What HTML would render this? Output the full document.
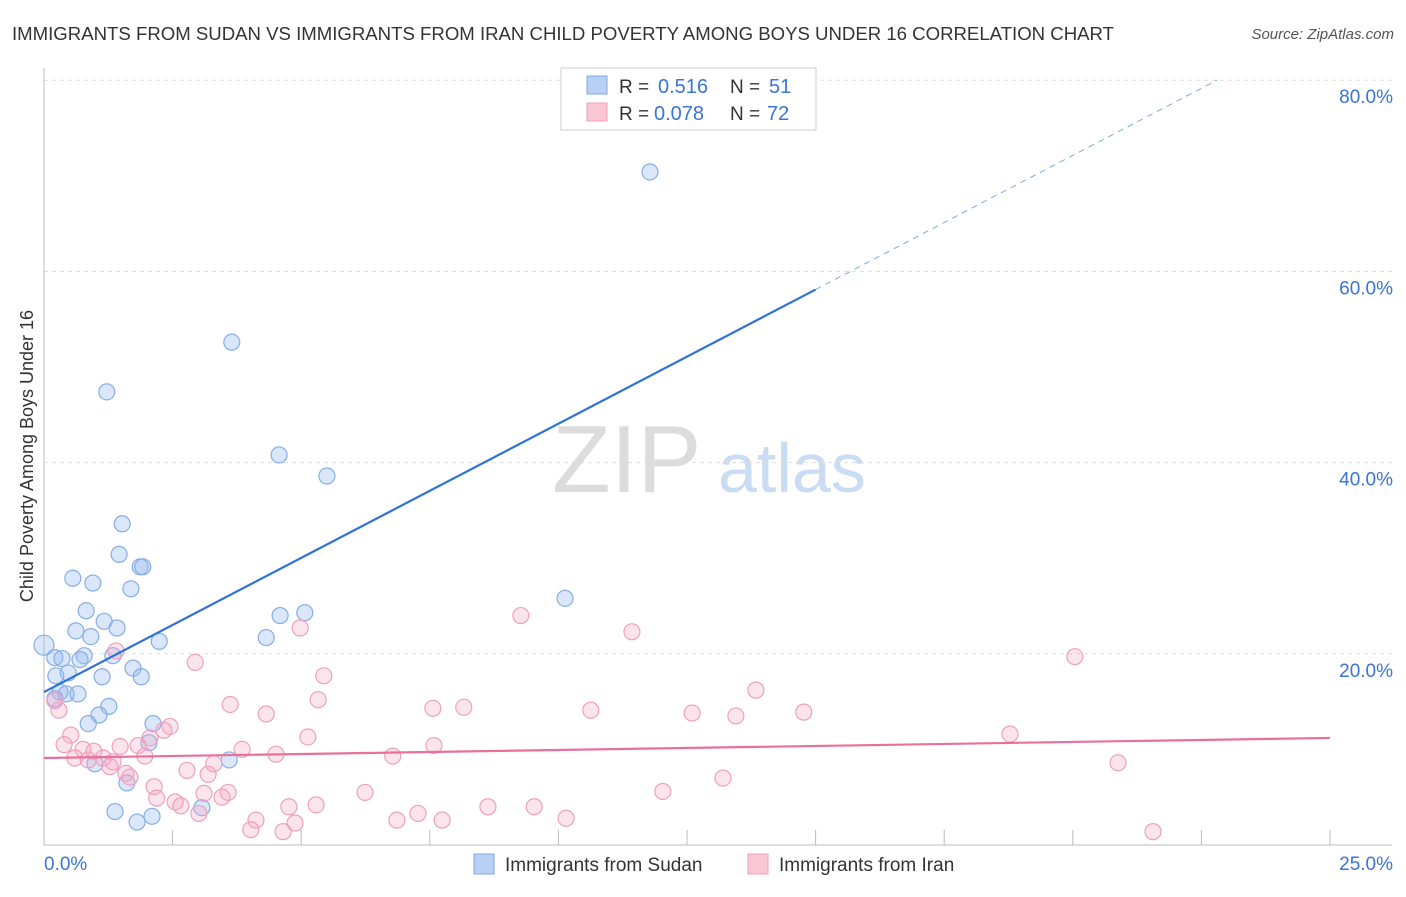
<!DOCTYPE html>
<html><head><meta charset="utf-8"><style>
body{margin:0;background:#fff;font-family:"Liberation Sans",sans-serif;}
svg text{font-family:"Liberation Sans",sans-serif;}
</style></head><body>
<svg id="chart" width="1406" height="892" xmlns="http://www.w3.org/2000/svg">
<text x="12" y="40" font-size="18.6" fill="#333">IMMIGRANTS FROM SUDAN VS IMMIGRANTS FROM IRAN CHILD POVERTY AMONG BOYS UNDER 16 CORRELATION CHART</text>
<text x="1394" y="39" font-size="15" fill="#555" font-style="italic" text-anchor="end">Source: ZipAtlas.com</text>
<text x="33" y="456" font-size="18" fill="#333" text-anchor="middle" transform="rotate(-90 33 456)">Child Poverty Among Boys Under 16</text>
<text x="552" y="492" font-size="96" fill="#dcdcdc" font-family="Liberation Serif">ZIP</text>
<text x="718" y="492" font-size="70" fill="#c9dcf3">atlas</text>
<g id="grid"></g><g id="marks"></g>
<g>
<rect x="561" y="68" width="255" height="62" fill="#fff" stroke="#ccc"/>
<rect x="587" y="76" width="20" height="18" fill="#b8d0f4" stroke="#7fa8e0"/>
<rect x="587" y="103" width="20" height="18" fill="#f9c6d6" stroke="#eea0bb"/>
<text x="619" y="93" font-size="19" fill="#333">R =</text>
<text x="658" y="93" font-size="20" fill="#3a74d4">0.516</text>
<text x="730" y="93" font-size="19" fill="#333">N =</text>
<text x="769" y="93" font-size="20" fill="#3a74d4">51</text>
<text x="619" y="120" font-size="19" fill="#333">R =</text>
<text x="654" y="120" font-size="20" fill="#3a74d4">0.078</text>
<text x="730" y="120" font-size="19" fill="#333">N =</text>
<text x="767" y="120" font-size="20" fill="#3a74d4">72</text>
</g>
<g>
<rect x="474" y="854" width="20" height="20" fill="#b8d0f4" stroke="#7fa8e0"/>
<text x="505" y="871" font-size="19" fill="#333">Immigrants from Sudan</text>
<rect x="748" y="854" width="20" height="20" fill="#f9c6d6" stroke="#eea0bb"/>
<text x="779" y="871" font-size="19" fill="#333">Immigrants from Iran</text>
</g>
</svg>
<script>
const yTicks=[20,40,60,80];
const yTickLabels=["20.0%","40.0%","60.0%","80.0%"];
const xTicks=[0,2.5,5,7.5,10,12.5,15,17.5,20,22.5,25];
const sudanX=[11.78,3.65,1.22,4.57,5.5,1.52,1.46,0.56,0.95,1.87,1.92,1.69,10.13,0.82,4.59,5.07,1.17,1.42,0.62,0.91,4.32,2.24,0,0.21,0.78,0.7,0.35,1.34,1.73,0.47,0.23,1.13,1.89,0.31,0.43,0.66,0.21,1.26,1.07,0.86,2.12,2.04,3.6,0.99,1.61,1.38,3.07,2.1,1.81];
const sudanY=[70.4,52.6,47.4,40.8,38.6,33.6,30.4,27.9,27.4,29.1,29.1,26.8,25.8,24.5,24,24.3,23.4,22.7,22.4,21.8,21.7,21.3,20.9,19.6,19.8,19.4,19.5,19.8,18.5,18,17.7,17.6,17.6,16,15.8,15.8,15.3,14.5,13.6,12.7,12.7,10.7,8.9,8.5,6.5,3.5,3.9,3,2.4];
const iranX=[9.27,11.43,4.98,20.04,2.94,1.4,5.44,13.84,5.33,3.62,4.32,7.56,8.16,10.63,12.6,13.45,14.77,0.29,0.21,2.45,2.33,0.52,18.78,5.13,2.06,0.39,0.76,0.97,1.48,1.83,3.85,7.58,4.51,1.96,6.78,0.6,1.15,0.86,1.34,1.28,3.3,2.78,3.19,1.59,1.67,13.2,20.88,2.14,2.19,2.55,2.66,3.58,3.11,3.46,6.24,12.03,5.29,4.76,8.63,9.53,7.27,3.01,4.12,6.86,7.74,10.15,4.88,4.02,4.65,21.56];
const iranY=[24,22.3,22.7,19.7,19.1,20.3,17.7,16.2,15.2,14.7,13.7,14.3,14.4,14.1,13.8,13.5,13.9,14.1,15.1,12.4,12,11.5,11.6,11.3,11.2,10.5,10,9.8,10.3,10.4,10,10.4,9.5,9.3,9.3,9.1,9.1,8.9,8.7,8.2,8.5,7.8,7.4,7.5,7.1,7,8.6,6.1,4.9,4.5,4.1,5.5,5.4,5,5.5,5.6,4.2,4,4,4,3.3,3.3,2.6,2.6,2.6,2.8,2.3,1.6,1.4,1.4];
const sudanTrend=[16,58.1];const sudanTrendX=[0,15];
const iranTrend=[9.1,11.2];const iranTrendX=[0,25];
const X=p=>44+p*51.44, Y=v=>845-v*9.56;
const NS="http://www.w3.org/2000/svg";
function mk(t,a,parent){const e=document.createElementNS(NS,t);for(const k in a)e.setAttribute(k,a[k]);parent.appendChild(e);return e;}
const grid=document.getElementById('grid'), marks=document.getElementById('marks');
yTicks.forEach((v,i)=>{
 const l=mk('line',{x1:44,x2:1392,y1:Y(v),y2:Y(v),stroke:'#ddd','stroke-dasharray':'4,4'},grid);
 
 
 const t=mk('text',{x:1393,y:Y(v)+23,'font-size':19,fill:'#3a74d4','text-anchor':'end'},grid);t.textContent=yTickLabels[i];
 
 
});
mk('line',{x1:44,x2:44,y1:68,y2:845,stroke:'#bbb'},grid);
mk('line',{x1:44,x2:1392,y1:845,y2:845,stroke:'#bbb'},grid);
xTicks.forEach(p=>{const l=mk('line',{x1:X(p),x2:X(p),y1:830,y2:845,stroke:'#bbb'},grid);
 
 });
let t=mk('text',{x:44,y:870,'font-size':19,fill:'#3a74d4'},grid);t.textContent='0.0%';


t=mk('text',{x:1393,y:870,'font-size':19,fill:'#3a74d4','text-anchor':'end'},grid);t.textContent='25.0%';


sudanX.forEach((p,i)=>{const c=mk('circle',{cx:X(p),cy:Y(sudanY[i]),r:i==22?10:8,fill:'rgba(150,185,240,0.35)',stroke:'#86ade6','stroke-width':1.2},marks);
 
 });
iranX.forEach((p,i)=>{const c=mk('circle',{cx:X(p),cy:Y(iranY[i]),r:8,fill:'rgba(245,165,195,0.3)',stroke:'#eea0bb','stroke-width':1.2},marks);
 
 });
const slope=(sudanTrend[1]-sudanTrend[0])/(sudanTrendX[1]-sudanTrendX[0]);
let l=mk('line',{x1:X(sudanTrendX[0]),y1:Y(sudanTrend[0]),x2:X(sudanTrendX[1]),y2:Y(sudanTrend[1]),stroke:'#2f72d8','stroke-width':2.2},marks);


const xe=sudanTrendX[1]+(80-sudanTrend[1])/slope;
l=mk('line',{x1:X(sudanTrendX[1]),y1:Y(sudanTrend[1]),x2:X(xe),y2:Y(80),stroke:'#7fa8e0','stroke-width':1,'stroke-dasharray':'6,5'},marks);


l=mk('line',{x1:X(iranTrendX[0]),y1:Y(iranTrend[0]),x2:X(iranTrendX[1]),y2:Y(iranTrend[1]),stroke:'#e8709a','stroke-width':2.2},marks);


</script>
</body></html>
